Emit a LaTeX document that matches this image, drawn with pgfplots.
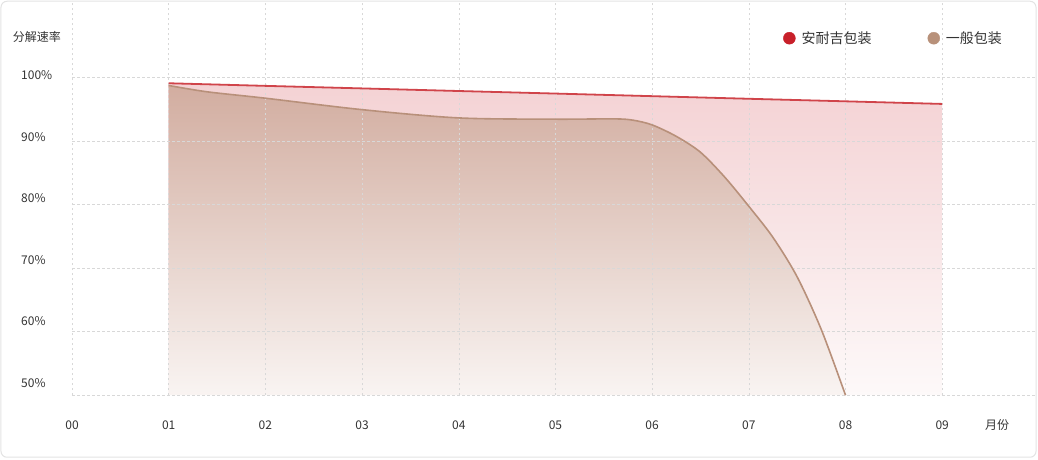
\documentclass[border=0pt]{standalone}
\usepackage{pgfplots}
\pgfplotsset{compat=1.18}
\usepackage{fontspec}
\setmainfont{Noto Sans CJK SC}

\definecolor{redline}{HTML}{D0444A}
\definecolor{redtop}{HTML}{F4D2D4}
\definecolor{redbot}{HTML}{FDF9F9}
\definecolor{brownline}{HTML}{B8907A}
\definecolor{browntop}{HTML}{D2ADA0}
\definecolor{brownbot}{HTML}{F9F4F2}
\definecolor{legred}{HTML}{C8202A}
\definecolor{legbrown}{HTML}{B8917A}
\definecolor{gridc}{HTML}{D8D8D8}
\definecolor{textc}{HTML}{333333}
\definecolor{cardc}{HTML}{E3E3E3}

\begin{document}
\begin{tikzpicture}
\path (-72pt,-64pt) rectangle (966pt,395pt);
\draw[cardc, line width=1pt, rounded corners=6pt] (-71pt,-62pt) rectangle (964pt,394pt);

\begin{axis}[
  set layers,
  scale only axis,
  width=964pt, height=395pt,
  xmin=0, xmax=9.97,
  ymin=50, ymax=112.1,
  axis line style={draw=none},
  major tick length=0pt,
  axis on top,
  xtick={0,...,9},
  xticklabels={00,01,02,03,04,05,06,07,08,09},
  xticklabel style={anchor=center, yshift=-30pt, font=\fontsize{12}{14}\selectfont, text=textc},
  ytick={50,60,...,100},
  yticklabel={\pgfmathtruncatemacro\v{50+10*\ticknum}\pgfmathsetmacro\dy{8-2.06*\ticknum}\raisebox{\dy pt}{\v\%}},
  yticklabel style={anchor=base west, inner sep=0pt, xshift=-51pt, font=\fontsize{12}{14}\selectfont, text=textc},
  xmajorgrids, ymajorgrids,
  grid style={gridc, dash pattern=on 2.5pt off 2.5pt, line width=0.5pt},
  legend columns=2,
  legend style={at={(axis cs:7.353,106.13)}, anchor=west, draw=none, fill=none,
    inner sep=0pt, font=\fontsize{14}{16}\selectfont, text=textc,
    nodes={inner sep=0pt},
    /tikz/every odd column/.style={column sep=6pt},
    /tikz/every even column/.style={column sep=56pt}},
  legend image code/.code={\fill[#1] (6pt,0pt) circle (6pt);},
]
% 安耐吉包装 area
\addplot[draw=none, top color=redtop, bottom color=redbot, forget plot] coordinates {
(1,99.05)(2,98.64)(3,98.24)(4,97.83)(5,97.43)(6,97.02)(7,96.61)(8,96.21)(9,95.80)
} \closedcycle;
% 一般包装 area
\addplot[draw=none, smooth, top color=browntop, bottom color=brownbot, forget plot] coordinates {
(1,98.7)(1.4,97.7)(2,96.7)(3,94.9)(4,93.6)(5,93.4)(5.6,93.45)(5.8,93.25)(6,92.5)(6.25,90.7)(6.5,88.2)(6.75,84.3)(7,79.7)(7.25,74.8)(7.5,68.6)(7.75,60.3)(8,50)
} \closedcycle;
\addplot[redline, line width=1.8pt, forget plot, on layer=axis foreground] coordinates {
(1,99.05)(2,98.64)(3,98.24)(4,97.83)(5,97.43)(6,97.02)(7,96.61)(8,96.21)(9,95.80)
};
\addplot[brownline, line width=1.6pt, smooth, forget plot, on layer=axis foreground] coordinates {
(1,98.7)(1.4,97.7)(2,96.7)(3,94.9)(4,93.6)(5,93.4)(5.6,93.45)(5.8,93.25)(6,92.5)(6.25,90.7)(6.5,88.2)(6.75,84.3)(7,79.7)(7.25,74.8)(7.5,68.6)(7.75,60.3)(8,50)
};
\addlegendimage{legred}
\addlegendentry{安耐吉包装}
\addlegendimage{legbrown}
\addlegendentry{一般包装}
\end{axis}

\node[text=textc, font=\fontsize{12}{14}\selectfont] at (-35pt,358pt) {分解速率};
\node[text=textc, font=\fontsize{12}{14}\selectfont] at (925pt,-30pt) {月份};
\end{tikzpicture}
\end{document}
